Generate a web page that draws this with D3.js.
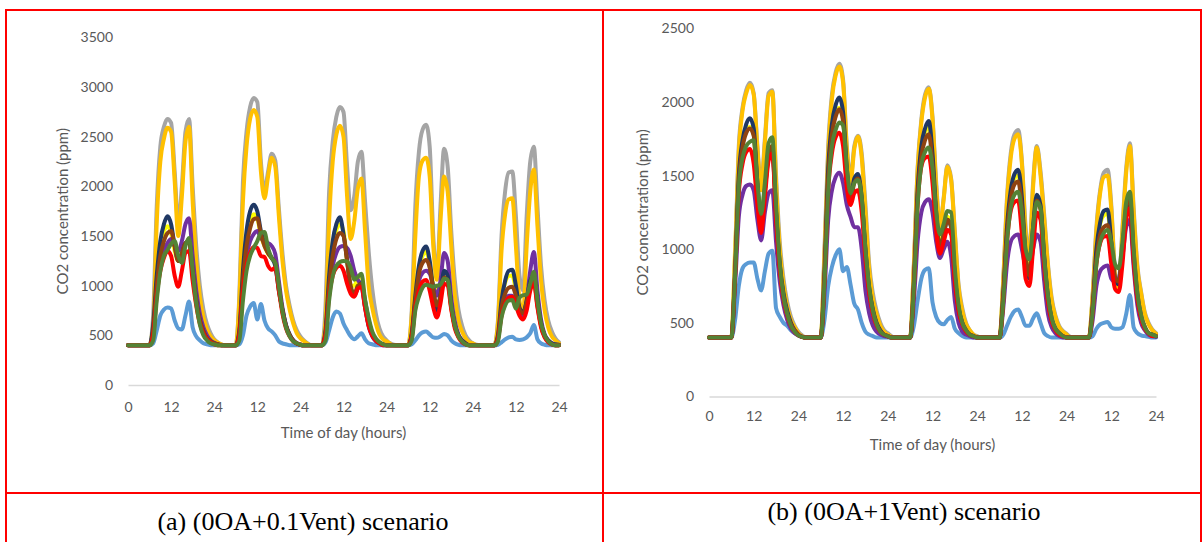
<!DOCTYPE html>
<html>
<head>
<meta charset="utf-8">
<script src="https://cdn.jsdelivr.net/npm/d3@7"></script>
<style>
  body { margin: 0; background: #fff; }
  svg { display: block; }
</style>
</head>
<body>
<div id="vis"></div>
<script>
// hourly CO2 readings (ppm), 5 days, hour 0..120
const xTickValues = [0, 12, 24, 36, 48, 60, 72, 84, 96, 108, 120];
const xTickLabels = ["0", "12", "24", "12", "24", "12", "24", "12", "24", "12", "24"];
const aYTicks = [0, 500, 1000, 1500, 2000, 2500, 3000, 3500];
const bYTicks = [0, 500, 1000, 1500, 2000, 2500];

// (a) 0OA + 0.1Vent
const a_gray = [
  400,400,400,400,400,400,400, 700,1800,2400,2600,2680,2640,2150,1620,2000,2550,2680,2000,1400,1000,760,610,520,
  460,430,410,400,400,400,400, 900,2050,2550,2800,2890,2850,2250,1950,2150,2330,2260,1780,1330,1000,800,650,550,
  490,450,420,400,400,400,400, 800,1950,2450,2700,2800,2750,2200,1760,1900,2250,2350,1850,1350,970,720,570,490,
  450,420,405,400,400,400,400, 750,1800,2350,2570,2620,2400,1500,1100,1800,2380,2200,1550,1050,760,600,500,450,
  420,405,400,400,400,400,400, 650,1500,1950,2140,2150,1700,1100,950,1700,2250,2400,1800,1200,850,650,540,470,
  430];
const a_gold = [
  400,400,400,400,400,400,400, 560,1630,2250,2480,2590,2550,2050,1500,1900,2450,2600,1850,1250,890,680,560,490,
  450,425,410,400,400,400,400, 850,1850,2400,2680,2770,2700,2150,1880,2100,2290,2200,1700,1250,950,760,620,520,
  470,440,415,400,400,400,400, 650,1650,2250,2520,2610,2500,1900,1470,1650,1980,2080,1550,1000,780,620,510,460,
  440,415,400,400,400,400,400, 700,1500,2100,2260,2290,2100,1400,1060,1650,2100,1950,1400,900,650,540,470,430,
  420,400,400,400,400,400,400, 620,1350,1720,1870,1880,1400,850,720,1400,1950,2170,1600,1050,750,580,490,450,
  420];
const a_navy = [
  400,400,400,400,400,400,400, 600,1100,1450,1620,1700,1620,1400,1250,1320,1430,1450,1150,850,650,540,470,440,
  420,410,400,400,400,400,400, 550,1150,1550,1750,1815,1750,1550,1430,1330,1280,1200,950,760,600,510,450,420,
  405,400,400,400,400,400,400, 550,1100,1450,1620,1690,1520,1260,960,900,980,1025,850,650,520,460,430,410,
  400,400,400,400,400,400,400, 520,900,1200,1350,1394,1250,950,730,900,1150,1100,800,600,500,450,420,400,
  400,400,400,400,400,400,400, 500,850,1050,1150,1160,1000,780,730,850,1050,1100,850,620,500,450,420,410,
  405];
const a_yellow = [
  400,400,400,400,400,400,400, 620,1150,1420,1550,1600,1530,1350,1250,1320,1420,1440,1100,820,630,520,460,430,
  415,400,400,400,400,400,400, 580,1150,1500,1650,1720,1680,1500,1400,1320,1280,1230,960,750,590,500,445,415,
  405,400,400,400,400,400,400, 580,1150,1430,1560,1620,1550,1250,1000,1000,1080,1100,820,620,510,450,420,410,
  400,400,400,400,400,400,400, 540,920,1180,1300,1340,1220,1020,950,1000,1100,1060,780,590,490,440,410,400,
  400,400,400,400,400,400,400, 520,850,1030,1100,1100,950,760,700,820,1000,1060,820,600,490,440,410,400,
  400];
const a_brown = [
  400,400,400,400,400,400,400, 550,1000,1300,1450,1530,1550,1400,1250,1330,1430,1450,1150,850,650,540,470,440,
  420,410,400,400,400,400,400, 520,1050,1400,1580,1670,1680,1520,1400,1330,1280,1230,980,750,590,500,445,415,
  405,400,400,400,400,400,400, 520,1000,1300,1470,1530,1500,1250,1000,920,1000,1020,790,600,500,450,420,410,
  400,400,400,400,400,400,400, 500,850,1120,1230,1260,1180,950,800,900,1080,1050,780,590,490,440,410,400,
  400,400,400,400,400,400,400, 480,780,920,980,990,900,760,720,830,1000,1050,800,600,490,440,410,400,
  400];
const a_purple = [
  400,400,400,400,400,400,400, 550,950,1200,1350,1430,1470,1400,1350,1450,1620,1680,1300,950,720,580,500,450,
  425,410,400,400,400,400,400, 520,1000,1300,1450,1520,1550,1480,1450,1430,1400,1320,1050,780,600,500,450,420,
  405,400,400,400,400,400,400, 520,950,1200,1330,1390,1400,1380,1300,1150,1060,1000,780,590,490,440,420,400,
  400,400,400,400,400,400,400, 500,820,1050,1130,1150,1120,1000,900,1050,1330,1250,880,640,510,450,420,400,
  400,400,400,400,400,400,400, 470,720,850,900,900,820,720,700,850,1150,1340,950,660,510,450,420,400,
  400];
const a_red = [
  400,400,400,400,400,400,400, 500,900,1150,1280,1350,1300,1100,990,1150,1330,1350,1050,800,620,520,460,430,
  410,400,400,400,400,400,400, 500,950,1200,1330,1390,1380,1300,1290,1200,1160,1180,950,720,570,490,440,420,
  405,400,400,400,400,400,400, 500,900,1100,1180,1200,1150,1020,920,890,970,990,780,600,500,450,420,400,
  400,400,400,400,400,400,400, 480,780,950,1040,1058,950,780,680,820,1020,1000,760,570,480,430,410,400,
  400,400,400,400,400,400,400, 460,700,820,880,890,800,700,660,750,950,1030,780,580,480,430,410,400,
  400];
const a_green = [
  400,400,400,400,400,400,400, 450,850,1150,1300,1360,1420,1450,1300,1230,1400,1480,1150,820,610,500,450,420,
  410,400,400,400,400,400,400, 450,850,1150,1300,1380,1450,1530,1540,1380,1280,1230,1000,740,580,490,440,420,
  405,400,400,400,400,400,400, 450,850,1100,1200,1240,1250,1245,1180,1060,1090,1120,860,680,540,470,430,410,
  400,400,400,400,400,400,400, 450,750,890,980,1010,1000,990,1000,1010,1070,1060,800,600,490,440,410,400,
  400,400,400,400,400,400,400, 440,680,800,850,855,770,880,905,910,1020,1140,850,620,500,440,410,400,
  400];
const a_ltblue = [
  400,400,400,400,400,400,400, 420,550,700,760,780,770,650,570,560,700,840,580,490,450,420,410,400,
  400,400,400,400,400,400,400, 410,500,700,790,826,660,816,650,570,540,500,440,420,410,400,400,400,
  400,400,400,400,400,400,400, 430,550,680,740,720,620,550,490,460,490,520,460,420,410,400,400,400,
  400,400,400,400,400,400,400, 410,450,500,530,538,510,480,475,490,514,500,450,420,405,400,400,400,
  400,400,400,400,400,400,400, 405,430,460,480,487,460,454,460,480,520,605,460,420,405,400,400,400,
  400];

// (b) 0OA + 1Vent
const b_gray = [
  400,400,400,400,400,400,400, 950,1700,1960,2080,2130,2060,1700,1430,1750,2060,2080,1500,1050,800,640,540,480,
  440,415,400,400,400,400,400, 1000,1700,2050,2200,2260,2150,1700,1480,1700,1770,1650,1300,900,700,580,500,450,
  430,410,400,400,400,400,400, 900,1550,1880,2050,2100,1900,1450,1150,1350,1570,1480,1120,760,600,500,450,420,
  410,400,400,400,400,400,400, 800,1350,1650,1780,1810,1600,1150,980,1450,1700,1530,1230,900,670,550,480,445,
  425,405,400,400,400,400,400, 700,1150,1400,1520,1540,1300,850,760,1150,1550,1720,1280,890,710,570,500,455,
  430];
const b_gold = [
  400,400,400,400,400,400,400, 920,1660,1940,2060,2115,2050,1680,1400,1720,2040,2070,1450,1000,760,610,520,470,
  430,410,400,400,400,400,400, 950,1650,2020,2180,2240,2130,1680,1450,1680,1765,1620,1250,860,660,560,480,440,
  420,405,400,400,400,400,400, 880,1530,1860,2030,2090,1880,1420,1150,1340,1560,1470,1100,740,580,490,450,420,
  405,400,400,400,400,400,400, 780,1320,1620,1750,1780,1580,1100,950,1420,1690,1500,1200,880,650,540,470,440,
  420,400,400,400,400,400,400, 680,1120,1380,1490,1500,1270,820,730,1120,1520,1700,1250,870,700,560,490,450,
  425];
const b_navy = [
  400,400,400,400,400,400,400, 850,1500,1740,1850,1890,1820,1450,1200,1400,1620,1650,1250,900,700,580,500,450,
  420,405,400,400,400,400,400, 850,1550,1850,1980,2030,1930,1550,1350,1480,1510,1350,1000,740,590,500,450,420,
  410,400,400,400,400,400,400, 780,1400,1700,1820,1870,1650,1250,1000,1100,1200,1150,820,600,500,450,420,410,
  400,400,400,400,400,400,400, 700,1150,1400,1510,1540,1350,950,800,1150,1370,1300,950,680,530,460,430,410,
  400,400,400,400,400,400,400, 620,1000,1180,1260,1270,1050,800,760,1000,1250,1300,950,680,540,470,430,420,
  410];
const b_yellow = [
  400,400,400,400,400,400,400, 1000,1550,1720,1800,1830,1780,1430,1220,1420,1650,1700,1250,880,680,560,490,450,
  420,405,400,400,400,400,400, 950,1550,1800,1920,1960,1880,1530,1360,1480,1500,1350,1000,740,590,500,450,420,
  410,400,400,400,400,400,400, 880,1420,1680,1790,1830,1620,1250,1030,1120,1220,1170,820,600,500,450,420,410,
  400,400,400,400,400,400,400, 780,1200,1400,1480,1500,1320,960,850,1150,1350,1280,930,670,530,460,430,410,
  400,400,400,400,400,400,400, 680,1020,1170,1230,1240,1040,800,780,1000,1250,1310,960,690,540,470,430,420,
  410];
const b_brown = [
  400,400,400,400,400,400,400, 820,1450,1690,1790,1820,1770,1420,1150,1400,1650,1700,1250,880,680,560,490,450,
  420,405,400,400,400,400,400, 800,1480,1780,1900,1950,1870,1520,1330,1450,1480,1330,980,720,580,490,440,420,
  410,400,400,400,400,400,400, 760,1350,1630,1740,1780,1580,1220,1000,1100,1200,1150,810,600,500,450,420,410,
  400,400,400,400,400,400,400, 680,1100,1340,1440,1460,1280,950,820,1120,1330,1270,920,660,520,460,430,410,
  400,400,400,400,400,400,400, 600,930,1100,1150,1165,1000,810,780,1000,1280,1350,980,700,550,470,430,420,
  410];
const b_purple = [
  400,400,400,400,400,400,400, 750,1220,1370,1430,1440,1400,1200,1060,1250,1380,1400,1050,780,620,520,460,430,
  415,405,400,400,400,400,400, 700,1200,1400,1490,1520,1450,1300,1220,1150,1150,1000,720,565,480,440,420,410,
  405,400,400,400,400,400,400, 650,1050,1250,1320,1340,1250,1050,940,1000,1050,950,650,500,440,420,410,400,
  400,400,400,400,400,400,400, 600,900,1050,1090,1100,1000,880,850,1000,1100,1050,780,560,470,430,410,400,
  400,400,400,400,400,400,400, 520,750,850,880,890,800,780,800,950,1150,1200,880,620,500,450,420,410,
  405];
const b_red = [
  400,400,400,400,400,400,400, 820,1380,1580,1660,1680,1580,1300,1110,1350,1600,1650,1200,860,660,550,480,440,
  415,405,400,400,400,400,400, 780,1400,1650,1760,1790,1700,1420,1300,1380,1400,1250,930,700,560,480,440,420,
  410,400,400,400,400,400,400, 740,1300,1560,1620,1630,1450,1120,970,1050,1130,1100,780,580,490,440,420,410,
  400,400,400,400,400,400,400, 650,1050,1260,1320,1330,1100,800,750,1000,1250,1200,880,640,510,450,420,410,
  400,400,400,400,400,400,400, 580,900,1040,1085,1090,900,730,710,900,1200,1280,920,660,530,460,430,410,
  410];
const b_green = [
  400,400,400,400,400,400,400, 820,1420,1620,1700,1730,1740,1450,1240,1450,1720,1760,1300,900,680,560,480,440,
  415,405,400,400,400,400,400, 780,1400,1700,1810,1860,1840,1550,1380,1450,1470,1350,1000,740,580,490,440,420,
  410,400,400,400,400,400,400, 740,1300,1570,1660,1690,1550,1250,1100,1170,1260,1250,870,620,500,450,420,410,
  400,400,400,400,400,400,400, 650,1050,1280,1370,1390,1250,1000,930,1150,1320,1280,940,680,530,460,430,410,
  400,400,400,400,400,400,400, 580,900,1050,1110,1130,1050,900,870,1050,1320,1390,1000,700,550,470,430,420,
  410];
const b_ltblue = [
  400,400,400,400,400,400,400, 520,750,870,900,910,910,800,720,850,970,990,600,540,500,480,450,430,
  415,405,400,400,400,400,400, 520,750,880,960,1000,850,880,760,630,590,500,440,420,410,400,400,400,
  400,400,400,400,400,400,400, 480,650,800,860,870,640,540,500,490,520,540,460,430,410,400,400,400,
  400,400,400,400,400,400,400, 420,480,540,580,590,540,480,480,530,565,500,430,410,400,400,400,400,
  400,400,400,400,400,400,400, 410,460,490,500,505,470,460,460,470,560,690,470,430,415,410,405,400,
  400];

// bottom to top drawing order
const seriesColors = {
  yellow: "#FFFF00", gray: "#A5A5A5", gold: "#FFC000", ltblue: "#5B9BD5",
  purple: "#7030A0", navy: "#1F3864", brown: "#8F4311", red: "#FF0000", green: "#548235"
};
const drawOrder = ["yellow", "gray", "gold", "ltblue", "purple", "navy", "brown", "red", "green"];

const panels = [
  {
    series: { yellow: a_yellow, gray: a_gray, gold: a_gold, ltblue: a_ltblue, purple: a_purple,
              navy: a_navy, brown: a_brown, red: a_red, green: a_green },
    yTicks: aYTicks, yMax: 3500,
    left: 128, right: 559, top: 37.5, bottom: 385,
    xPad: 17, yTitleX: 64, xTitleY: 434,
    caption: "(a) (0OA+0.1Vent) scenario", capX: 303, capY: 530
  },
  {
    series: { yellow: b_yellow, gray: b_gray, gold: b_gold, ltblue: b_ltblue, purple: b_purple,
              navy: b_navy, brown: b_brown, red: b_red, green: b_green },
    yTicks: bYTicks, yMax: 2500,
    left: 709, right: 1156, top: 28.3, bottom: 396.5,
    xPad: 15, yTitleX: 644, xTitleY: 446.5,
    caption: "(b) (0OA+1Vent) scenario", capX: 904, capY: 520
  }
];

const W = 1203, H = 542;
const svg = d3.select("#vis").append("svg")
  .attr("width", W)
  .attr("height", H)
  .style("background", "#fff");

panels.forEach(function (p) {
  const x = d3.scaleLinear().domain([0, 120]).range([p.left, p.right]);
  const y = d3.scaleLinear().domain([0, p.yMax]).range([p.bottom, p.top]);

  // x axis (light baseline, no tick marks)
  const gx = svg.append("g")
    .attr("transform", "translate(0," + p.bottom + ")")
    .call(d3.axisBottom(x).tickValues(xTickValues)
      .tickFormat((d, i) => xTickLabels[i])
      .tickSize(0).tickPadding(p.xPad));
  gx.attr("font-family", "Lato").attr("font-size", 14);
  gx.select(".domain").attr("stroke", "#D9D9D9").attr("stroke-width", 1.3);
  gx.selectAll("text").attr("fill", "#595959");

  // y axis labels only
  const gy = svg.append("g")
    .attr("transform", "translate(" + p.left + ",0)")
    .call(d3.axisLeft(y).tickValues(p.yTicks).tickFormat(d3.format("d"))
      .tickSize(0).tickPadding(15));
  gy.attr("font-family", "Lato").attr("font-size", 14);
  gy.select(".domain").remove();
  gy.selectAll("text").attr("fill", "#595959");

  const line = d3.line()
    .x((d, i) => x(i))
    .y(d => y(d))
    .curve(d3.curveMonotoneX);

  drawOrder.forEach(function (key) {
    svg.append("path")
      .datum(p.series[key])
      .attr("fill", "none")
      .attr("stroke", seriesColors[key])
      .attr("stroke-width", 4)
      .attr("stroke-linejoin", "round")
      .attr("stroke-linecap", "round")
      .attr("d", line);
  });

  // axis titles
  svg.append("text")
    .attr("x", (p.left + p.right) / 2)
    .attr("y", p.xTitleY)
    .attr("text-anchor", "middle")
    .attr("dominant-baseline", "middle")
    .attr("font-family", "Lato")
    .attr("font-size", 15)
    .attr("fill", "#595959")
    .text("Time of day (hours)");

  svg.append("text")
    .attr("transform", "translate(" + p.yTitleX + "," + ((p.top + p.bottom) / 2) + ") rotate(-90)")
    .attr("text-anchor", "middle")
    .attr("dominant-baseline", "middle")
    .attr("font-family", "Lato")
    .attr("font-size", 15)
    .attr("fill", "#595959")
    .text("CO2 concentration (ppm)");

  // caption under the chart
  svg.append("text")
    .attr("x", p.capX)
    .attr("y", p.capY)
    .attr("text-anchor", "middle")
    .attr("font-family", "Liberation Serif, Times New Roman, serif")
    .attr("font-size", 26)
    .attr("fill", "#000")
    .text(p.caption);
});

// red table borders
const borders = [
  [5, 10, 1201, 10],
  [6, 9, 6, 542],
  [603, 9, 603, 542],
  [1201, 9, 1201, 542],
  [5, 493, 1201, 493]
];
svg.selectAll(".border")
  .data(borders)
  .enter()
  .append("line")
  .attr("class", "border")
  .attr("x1", d => d[0]).attr("y1", d => d[1])
  .attr("x2", d => d[2]).attr("y2", d => d[3])
  .attr("stroke", "#FF0000")
  .attr("stroke-width", 2);
</script>
</body>
</html>
